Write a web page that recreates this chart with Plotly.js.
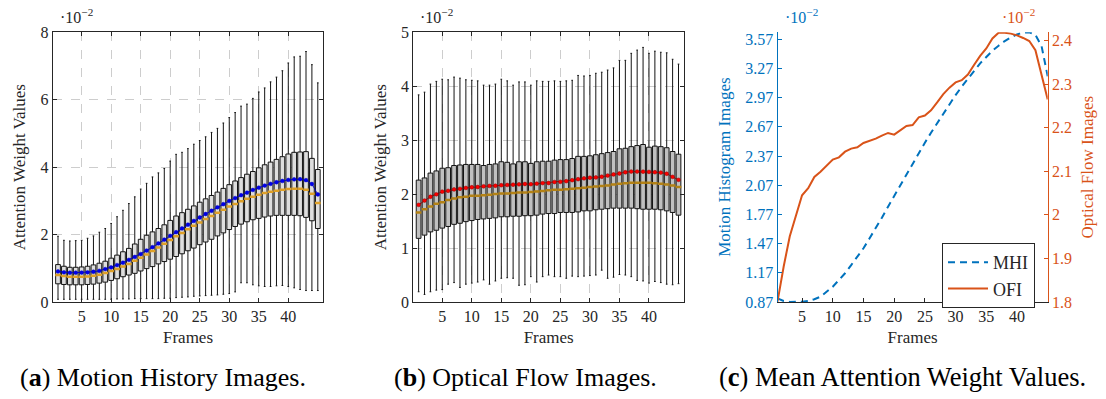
<!DOCTYPE html>
<html><head><meta charset="utf-8">
<script src="https://cdn.plot.ly/plotly-3.0.1.min.js"></script>
<style>html,body{margin:0;padding:0;background:#fff}#chart{width:1106px;height:399px}</style>
</head><body><div id="chart"></div>
<script>
// ---------------- data ----------------
const frames = [1,2,3,4,5,6,7,8,9,10,11,12,13,14,15,16,17,18,19,20,21,22,23,24,25,26,27,28,29,30,31,32,33,34,35,36,37,38,39,40,41,42,43,44,45];
const frameTicks = [5,10,15,20,25,30,35,40];

// (a) Motion History Images: box statistics (x 10^-2)
const mhiQ1 = [0.54,0.52,0.51,0.51,0.51,0.52,0.53,0.56,0.59,0.64,0.69,0.75,0.80,0.85,0.92,0.99,1.05,1.13,1.20,1.27,1.35,1.43,1.52,1.60,1.70,1.78,1.86,1.96,2.05,2.15,2.24,2.31,2.38,2.44,2.48,2.52,2.55,2.57,2.57,2.57,2.57,2.56,2.51,2.41,2.18];
const mhiQ3 = [1.11,1.06,1.03,1.03,1.04,1.06,1.10,1.15,1.21,1.30,1.39,1.49,1.59,1.72,1.86,1.98,2.08,2.18,2.29,2.42,2.55,2.65,2.75,2.85,2.96,3.06,3.16,3.26,3.37,3.48,3.59,3.69,3.79,3.87,3.98,4.07,4.15,4.23,4.31,4.39,4.44,4.45,4.46,4.26,3.93];
const mhiMedian = [0.80,0.77,0.75,0.75,0.75,0.76,0.78,0.81,0.86,0.92,0.98,1.05,1.13,1.22,1.31,1.41,1.51,1.62,1.73,1.84,1.95,2.05,2.16,2.26,2.36,2.46,2.55,2.65,2.74,2.83,2.91,2.99,3.06,3.12,3.18,3.23,3.27,3.30,3.33,3.35,3.36,3.36,3.33,3.21,2.94];
const mhiLow = [0.08,0.08,0.08,0.08,0.08,0.08,0.08,0.08,0.08,0.08,0.09,0.09,0.09,0.10,0.10,0.10,0.10,0.10,0.11,0.11,0.13,0.14,0.15,0.17,0.18,0.19,0.20,0.21,0.23,0.25,0.30,0.57,0.57,0.51,0.48,0.46,0.46,0.48,0.49,0.46,0.42,0.37,0.34,0.34,0.34];
const mhiHigh = [1.95,1.83,1.81,1.82,1.83,1.89,1.96,2.07,2.18,2.33,2.53,2.72,2.92,3.12,3.35,3.52,3.71,3.83,3.96,4.18,4.38,4.44,4.55,4.68,4.79,4.90,5.03,5.15,5.31,5.47,5.62,5.81,5.87,6.04,6.23,6.35,6.53,6.67,6.86,7.09,7.27,7.29,7.43,7.04,6.50];
const mhiMean = [0.908,0.88,0.87,0.87,0.873,0.88,0.898,0.924,0.976,1.027,1.096,1.165,1.25,1.336,1.422,1.525,1.627,1.737,1.85,1.962,2.072,2.182,2.295,2.404,2.507,2.61,2.706,2.809,2.902,2.997,3.083,3.169,3.244,3.323,3.391,3.453,3.504,3.552,3.59,3.621,3.638,3.642,3.615,3.50,3.19];

// (b) Optical Flow Images: box statistics (x 10^-2)
const ofiQ1 = [1.18,1.24,1.30,1.33,1.37,1.40,1.44,1.46,1.49,1.51,1.53,1.54,1.55,1.56,1.58,1.58,1.59,1.59,1.60,1.60,1.61,1.63,1.64,1.64,1.66,1.66,1.66,1.67,1.69,1.69,1.71,1.72,1.73,1.74,1.74,1.74,1.74,1.73,1.72,1.72,1.72,1.71,1.69,1.66,1.61];
const ofiQ3 = [2.26,2.30,2.39,2.43,2.48,2.49,2.53,2.54,2.55,2.55,2.55,2.53,2.55,2.56,2.60,2.59,2.56,2.60,2.60,2.57,2.60,2.61,2.61,2.63,2.64,2.64,2.66,2.70,2.70,2.71,2.73,2.75,2.77,2.79,2.84,2.85,2.88,2.90,2.92,2.87,2.89,2.88,2.86,2.79,2.74];
const ofiMedian = [1.66,1.72,1.77,1.82,1.85,1.89,1.92,1.94,1.95,1.97,1.97,1.98,1.99,2.00,2.01,2.01,2.02,2.03,2.03,2.04,2.05,2.06,2.07,2.08,2.08,2.09,2.10,2.11,2.12,2.13,2.14,2.15,2.16,2.18,2.19,2.20,2.21,2.21,2.21,2.21,2.20,2.19,2.18,2.16,2.13];
const ofiLow = [0.19,0.14,0.19,0.22,0.23,0.33,0.36,0.27,0.33,0.35,0.37,0.41,0.33,0.39,0.44,0.45,0.44,0.31,0.32,0.47,0.37,0.47,0.50,0.47,0.47,0.44,0.48,0.47,0.48,0.49,0.50,0.59,0.44,0.46,0.51,0.50,0.47,0.40,0.39,0.35,0.38,0.36,0.33,0.32,0.34];
const ofiHigh = [3.84,3.89,4.04,4.09,4.13,4.12,4.17,4.15,4.12,4.11,4.10,4.02,4.02,4.04,4.13,4.10,4.02,4.08,4.08,4.02,4.10,4.09,4.09,4.10,4.09,4.10,4.11,4.20,4.19,4.20,4.24,4.26,4.30,4.34,4.48,4.48,4.61,4.67,4.72,4.61,4.65,4.63,4.62,4.50,4.41];
const ofiMean = [1.801,1.881,1.951,1.997,2.045,2.061,2.087,2.099,2.114,2.127,2.132,2.145,2.152,2.155,2.165,2.17,2.175,2.182,2.188,2.184,2.194,2.204,2.206,2.224,2.228,2.24,2.258,2.277,2.292,2.304,2.309,2.322,2.344,2.365,2.382,2.405,2.418,2.418,2.416,2.412,2.406,2.399,2.378,2.32,2.265];

// tick labels
const aTicks = [0,2,4,6,8];
const bTicks = [0,1,2,3,4,5];
const mhiTickVals = [0.87,1.17,1.47,1.77,2.07,2.37,2.67,2.97,3.27,3.57];
const mhiTickText = ['0.87','1.17','1.47','1.77','2.07','2.37','2.67','2.97','3.27','3.57'];
const ofiTickVals = [1.8,1.9,2.0,2.1,2.2,2.3,2.4];
const ofiTickText = ['1.8','1.9','2','2.1','2.2','2.3','2.4'];

const captions = ['(<b>a</b>) Motion History Images.','(<b>b</b>) Optical Flow Images.','(<b>c</b>) Mean Attention Weight Values.'];
const seriesNames = ['MHI','OFI'];

// ---------------- layout helpers ----------------
const W = 1106, H = 399;
const px = v => v / W;
const py = v => 1 - v / H;
const FONT = 'Liberation Serif, Times New Roman, serif';
const DARK = 'rgb(38,38,38)';
const GRID = 'rgb(205,205,205)';
const BLUE = 'rgb(0,114,189)';
const ORANGE = 'rgb(217,83,25)';

function boxTrace(q1, med, q3, lo, hi, fill, xa, ya) {
  return {
    type: 'box', x: frames, q1: q1, median: med, q3: q3,
    lowerfence: lo, upperfence: hi, boxpoints: false,
    width: 0.8, whiskerwidth: 0.35,
    fillcolor: fill, line: {color: 'rgb(20,20,20)', width: 1},
    xaxis: xa, yaxis: ya, showlegend: false, hoverinfo: 'skip'
  };
}
function medianTrace(med, color, xa, ya) {
  return {
    type: 'scatter', mode: 'markers', x: frames, y: med,
    marker: {symbol: 'line-ew', size: 4, line: {color: color, width: 2.5}},
    xaxis: xa, yaxis: ya, showlegend: false, hoverinfo: 'skip'
  };
}
function meanTrace(mean, color, lineColor, xa, ya) {
  return {
    type: 'scatter', mode: 'lines+markers', x: frames, y: mean,
    line: {color: lineColor, width: 0.9},
    marker: {color: color, size: 3.8, line: {color: lineColor, width: 0.5}},
    xaxis: xa, yaxis: ya, showlegend: false, hoverinfo: 'skip'
  };
}

const traces = [
  boxTrace(mhiQ1, mhiMedian, mhiQ3, mhiLow, mhiHigh, 'rgb(222,222,222)', 'x', 'y'),
  medianTrace(mhiMedian, 'rgb(222,160,40)', 'x', 'y'),
  meanTrace(mhiMean, 'rgb(0,0,235)', 'rgb(0,0,190)', 'x', 'y'),
  boxTrace(ofiQ1, ofiMedian, ofiQ3, ofiLow, ofiHigh, 'rgb(192,192,192)', 'x2', 'y2'),
  medianTrace(ofiMedian, 'rgb(180,130,20)', 'x2', 'y2'),
  meanTrace(ofiMean, 'rgb(255,0,0)', 'rgb(140,0,0)', 'x2', 'y2'),
  {type: 'scatter', mode: 'lines', name: seriesNames[0], x: frames, y: mhiMean,
   line: {color: BLUE, width: 2, dash: '7px,5px'}, xaxis: 'x3', yaxis: 'y3'},
  {type: 'scatter', mode: 'lines', name: seriesNames[1], x: frames, y: ofiMean,
   line: {color: ORANGE, width: 2}, xaxis: 'x3', yaxis: 'y4'}
];

const tickFont = {family: FONT, size: 16, color: DARK};
const titleFont = {family: FONT, size: 17, color: DARK};

function boxX(domain) {
  return {
    domain: domain, range: [0.1, 45.93], tickvals: frameTicks,
    showgrid: true, gridcolor: GRID, griddash: 'dash', gridwidth: 1,
    showline: true, linecolor: DARK, linewidth: 1, mirror: 'ticks',
    ticks: 'inside', ticklen: 4, tickcolor: DARK, zeroline: false,
    tickfont: tickFont, title: {text: 'Frames', font: titleFont, standoff: 6}
  };
}
function boxY(range, ticks, anchor) {
  return {
    domain: [py(302), py(32.3)], range: range, tickvals: ticks, anchor: anchor,
    showgrid: true, gridcolor: GRID, griddash: 'dash', gridwidth: 1,
    showline: true, linecolor: DARK, linewidth: 1, mirror: 'ticks',
    ticks: 'inside', ticklen: 4, tickcolor: DARK, zeroline: false,
    tickfont: tickFont, title: {text: 'Attention Weight Values', font: titleFont, standoff: 10}
  };
}

const annotations = [
  {text: '·10<sup>−2</sup>', x: px(58), y: py(16), xanchor: 'left', yanchor: 'middle', font: {family: FONT, size: 16, color: DARK}},
  {text: '·10<sup>−2</sup>', x: px(418), y: py(16), xanchor: 'left', yanchor: 'middle', font: {family: FONT, size: 16, color: DARK}},
  {text: '·10<sup>−2</sup>', x: px(783), y: py(16), xanchor: 'left', yanchor: 'middle', font: {family: FONT, size: 16, color: BLUE}},
  {text: '·10<sup>−2</sup>', x: px(1000), y: py(16), xanchor: 'left', yanchor: 'middle', font: {family: FONT, size: 16, color: ORANGE}},
  {text: captions[0], x: px(163), y: py(377), xanchor: 'center', yanchor: 'middle', font: {family: FONT, size: 26, color: 'black'}},
  {text: captions[1], x: px(525), y: py(377), xanchor: 'center', yanchor: 'middle', font: {family: FONT, size: 26, color: 'black'}},
  {text: captions[2], x: px(902), y: py(377), xanchor: 'center', yanchor: 'middle', font: {family: FONT, size: 26.5, color: 'black'}}
].map(a => Object.assign({xref: 'paper', yref: 'paper', showarrow: false}, a));

const layout = {
  width: W, height: H, margin: {l: 0, r: 0, t: 0, b: 0},
  paper_bgcolor: 'white', plot_bgcolor: 'white',
  font: {family: FONT, size: 16, color: DARK},
  boxmode: 'overlay',
  xaxis: Object.assign(boxX([px(52.7), px(323.3)]), {anchor: 'y'}),
  yaxis: boxY([0, 8], aTicks, 'x'),
  xaxis2: Object.assign(boxX([px(413.3), px(684)]), {anchor: 'y2'}),
  yaxis2: boxY([0, 5], bTicks, 'x2'),
  xaxis3: {
    domain: [px(777.5), px(1047.7)], anchor: 'y3', range: [1, 45], tickvals: frameTicks,
    showgrid: false, showline: true, linecolor: DARK, linewidth: 1,
    ticks: 'inside', ticklen: 4, tickcolor: DARK, zeroline: false,
    tickfont: tickFont, title: {text: 'Frames', font: titleFont, standoff: 6}
  },
  yaxis3: {
    domain: [py(302), py(32.3)], anchor: 'x3', range: [0.87, 3.642],
    tickvals: mhiTickVals, ticktext: mhiTickText,
    showgrid: false, showline: true, linecolor: BLUE, linewidth: 1,
    ticks: 'inside', ticklen: 4, tickcolor: BLUE, zeroline: false,
    tickfont: {family: FONT, size: 16, color: BLUE},
    title: {text: 'Motion Histogram Images', font: {family: FONT, size: 17, color: BLUE}, standoff: 10}
  },
  yaxis4: {
    overlaying: 'y3', side: 'right', anchor: 'x3', range: [1.8, 2.419],
    tickvals: ofiTickVals, ticktext: ofiTickText,
    showgrid: false, showline: true, linecolor: ORANGE, linewidth: 1,
    ticks: 'inside', ticklen: 4, tickcolor: ORANGE, zeroline: false,
    tickfont: {family: FONT, size: 16, color: ORANGE},
    title: {text: 'Optical Flow Images', font: {family: FONT, size: 17, color: ORANGE}, standoff: 10}
  },
  showlegend: true,
  legend: {
    x: px(942), y: py(243), xanchor: 'left', yanchor: 'top',
    bgcolor: 'white', bordercolor: DARK, borderwidth: 1, itemwidth: 40,
    font: {family: FONT, size: 18, color: DARK}, tracegroupgap: 0
  },
  annotations: annotations
};

Plotly.newPlot('chart', traces, layout, {displayModeBar: false, staticPlot: true});
</script>
</body></html>
